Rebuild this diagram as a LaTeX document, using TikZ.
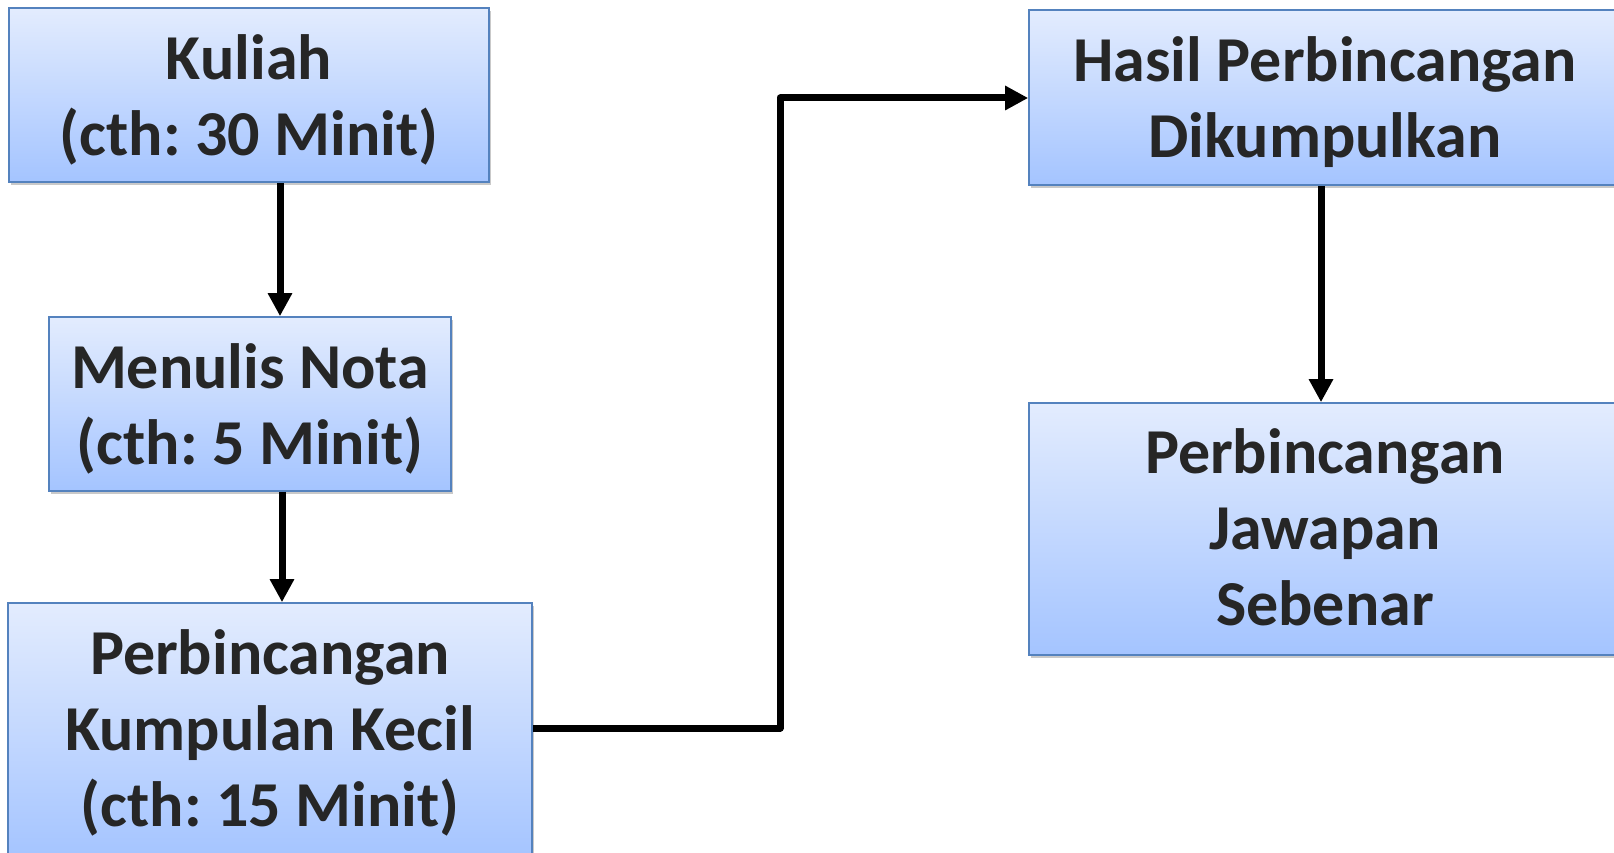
\documentclass[tikz,border=0pt]{standalone}
\usepackage{fontspec}
\setmainfont{Carlito}
\usetikzlibrary{arrows.meta,shadows}
\definecolor{boxtop}{RGB}{227,236,254}
\definecolor{boxbot}{RGB}{164,196,255}
\definecolor{boxedge}{RGB}{84,130,190}
\definecolor{txt}{RGB}{38,38,38}
\newcommand{\boxlines}[2]{\raisebox{#1}[0pt][0pt]{\begin{tabular}{@{}c@{}}#2\end{tabular}}}
\tikzset{
  stepbox/.style={draw=boxedge, line width=1.6pt, top color=boxtop, bottom color=boxbot,
    drop shadow={shadow xshift=2pt, shadow yshift=-3pt, opacity=0.35, fill=black!60},
    text=txt, inner sep=0pt,
    font=\fontsize{64}{76}\selectfont\bfseries\frenchspacing},
  arr/.style={line width=7pt, line join=round, -{Triangle[length=23pt,width=23pt]}}
}
\begin{document}
\begin{tikzpicture}[x=1pt,y=-1pt]
\clip (0,0) rectangle (1614,853);
\fill[white] (0,0) rectangle (1614,853);
\node[stepbox, minimum width=480pt, minimum height=174pt] (b1) at (249,95) {\boxlines{-14pt}{Kuliah\\(cth: 30 Minit)}};
\node[stepbox, minimum width=402pt, minimum height=174pt] (b2) at (250,404) {\boxlines{-14pt}{Menulis Nota\\(cth: 5 Minit)}};
\node[stepbox, minimum width=524pt, minimum height=257pt] (b3) at (270,731.5) {\boxlines{-10pt}{Perbincangan\\Kumpulan Kecil\\(cth: 15 Minit)}};
\node[stepbox, minimum width=592pt, minimum height=175pt] (b4) at (1325,97.5) {\boxlines{-13pt}{Hasil Perbincangan\\Dikumpulkan}};
\node[stepbox, minimum width=592pt, minimum height=252pt] (b5) at (1325,529) {\boxlines{-12pt}{Perbincangan\\Jawapan\\Sebenar}};
\coordinate (c1) at (280,0);
\coordinate (c2) at (282,0);
\coordinate (c3) at (1321,0);
\coordinate (ea) at (780,728);
\coordinate (eb) at (780,98);
\draw[arr] (b1.south -| c1) -- (b2.north -| c1);
\draw[arr] (b2.south -| c2) -- (b3.north -| c2);
\draw[arr] (b3.east |- ea) -- (ea) -- (eb) -- (b4.west |- eb);
\draw[arr] (b4.south -| c3) -- (b5.north -| c3);
\end{tikzpicture}
\end{document}
